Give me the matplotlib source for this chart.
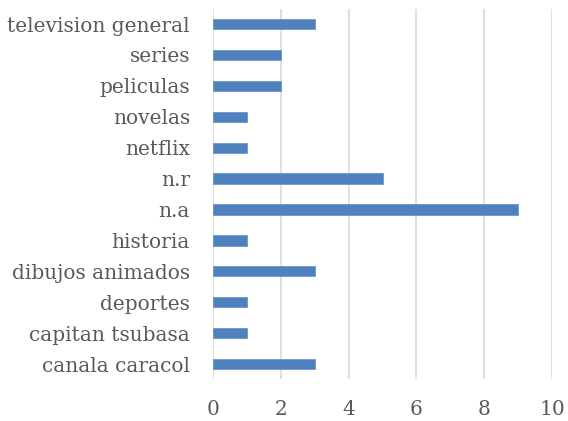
import matplotlib
matplotlib.use("Agg")
import matplotlib.pyplot as plt

categories = ["canala caracol", "capitan tsubasa", "deportes", "dibujos animados",
              "historia", "n.a", "n.r", "netflix", "novelas", "peliculas",
              "series", "television general"]
values = [3, 1, 1, 3, 1, 9, 5, 1, 1, 2, 2, 3]
xticks = [0, 2, 4, 6, 8, 10]

plt.rcParams["font.family"] = ["DejaVu Serif"]

fig = plt.figure(figsize=(5.68, 4.21), dpi=100)
ax = fig.add_axes([0.375, 0.0986, 0.597, 0.881])

y = range(len(categories))
ax.barh(y, values, height=0.33, color="#4F81BD", edgecolor="#6C97CF", linewidth=0.6, zorder=3)

ax.set_xlim(0, 10)
ax.set_ylim(-0.5, len(categories) - 0.5)
ax.set_xticks(xticks)
ax.set_yticks(list(y))
ax.set_yticklabels(categories)
ax.xaxis.grid(True, color="#D9D9D9", linewidth=1.2, zorder=0)
ax.tick_params(axis="both", length=0, labelsize=14.5, colors="#595959")
ax.tick_params(axis="x", pad=15)
ax.tick_params(axis="y", pad=16.5)
for s in ax.spines.values():
    s.set_visible(False)

fig.savefig("out.png", dpi=100)
